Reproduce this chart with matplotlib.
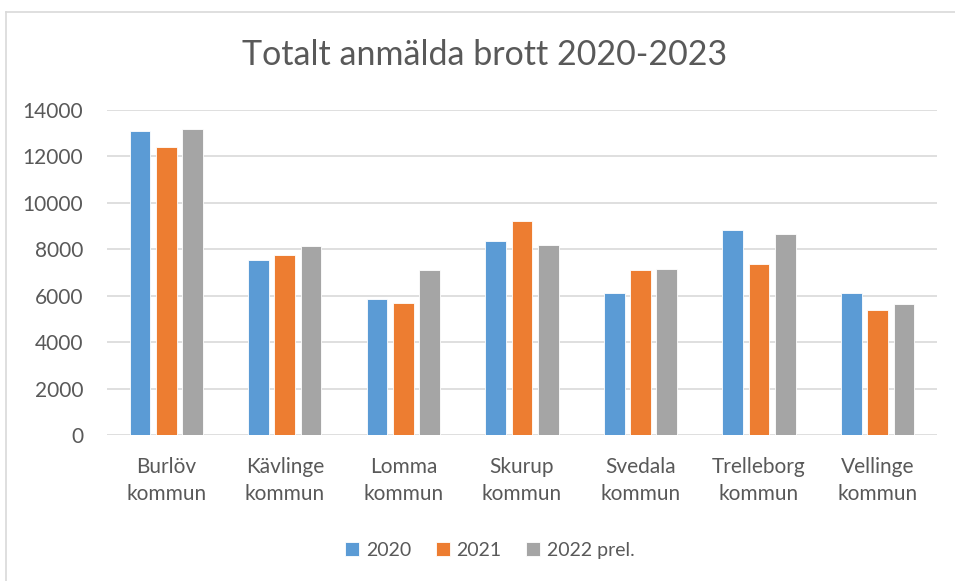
import numpy as np
import matplotlib
matplotlib.use("Agg")
import matplotlib.pyplot as plt
from matplotlib.lines import Line2D

plt.rcParams['font.family'] = ['Lato', 'DejaVu Sans']

# data
kommuner = ["Burlöv\nkommun", "Kävlinge\nkommun", "Lomma\nkommun", "Skurup\nkommun",
            "Svedala\nkommun", "Trelleborg\nkommun", "Vellinge\nkommun"]
serier = ["2020", "2021", "2022 prel."]
v2020 = [13080, 7550, 5870, 8350, 6100, 8850, 6100]
v2021 = [12420, 7740, 5670, 9220, 7090, 7370, 5400]
v2022 = [13160, 8130, 7110, 8200, 7160, 8660, 5630]
yticks = [0, 2000, 4000, 6000, 8000, 10000, 12000, 14000]

farger = ["#5B9BD5", "#ED7D31", "#A5A5A5"]
textfarg = "#595959"

fig = plt.figure(figsize=(9.55, 5.81), dpi=100)
ax = fig.add_axes([0.112, 0.2513, 0.869, 0.5594])

x = np.arange(len(kommuner))
offs = [-0.222, 0.0, 0.222]
for vals, off, c, lab in zip([v2020, v2021, v2022], offs, farger, serier):
    ax.bar(x + off, vals, width=0.175, color=c, edgecolor="white", linewidth=0.6,
           label=lab, zorder=3)

ax.set_xlim(-0.5, len(kommuner) - 0.5)
ax.set_ylim(0, 14000)
ax.set_yticks(yticks)
ax.set_yticklabels([str(t) for t in yticks])
ax.set_xticks(x)
ax.set_xticklabels(kommuner, linespacing=1.45)
ax.grid(axis="y", color="#D9D9D9", linewidth=1.2, zorder=0)
for s in ax.spines.values():
    s.set_visible(False)
ax.tick_params(axis="both", length=0, labelsize=15, colors=textfarg)
ax.tick_params(axis="x", pad=16)
ax.tick_params(axis="y", pad=17)

fig.text(0.507, 0.905, "Totalt anmälda brott 2020-2023", ha="center", va="center",
         fontsize=24.5, color=textfarg)

leg = fig.legend(loc="center", bbox_to_anchor=(0.513, 0.053), ncol=3, frameon=False,
                 fontsize=14, handlelength=0.72, handleheight=0.72, handletextpad=0.36,
                 columnspacing=1.25)
for t in leg.get_texts():
    t.set_color(textfarg)

# chart area border (top and left edges visible)
fig.add_artist(Line2D([6 / 955, 1.0], [1 - 12 / 581, 1 - 12 / 581], color="#D9D9D9",
                      linewidth=1.2, transform=fig.transFigure))
fig.add_artist(Line2D([6 / 955, 6 / 955], [0.0, 1 - 12 / 581], color="#D9D9D9",
                      linewidth=1.2, transform=fig.transFigure))

fig.savefig("out.png", dpi=100, facecolor="white")
